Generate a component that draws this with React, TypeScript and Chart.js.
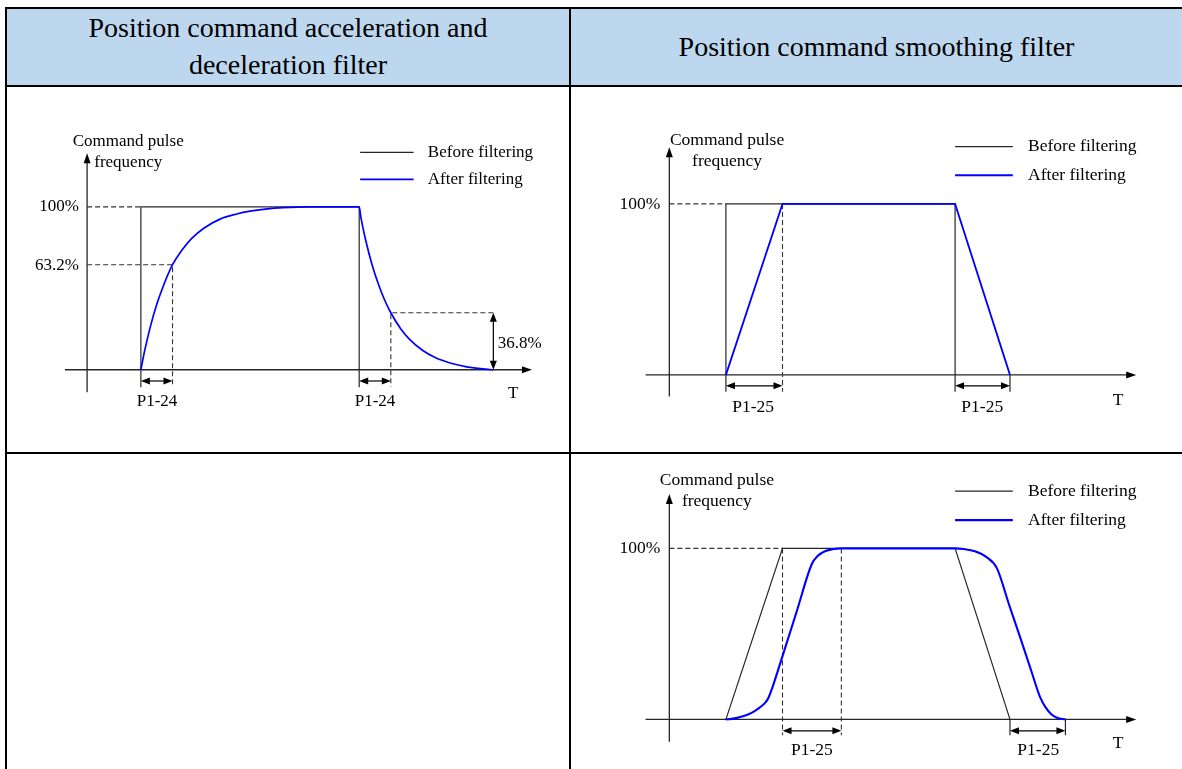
import React, { useEffect, useRef } from "react";
import { Chart, registerables } from "chart.js";

Chart.register(...registerables);

type Pt = { x: number; y: number };

// ---------- Diagram 1: acceleration / deceleration filter (time unit: 1/10 of P1-24) ----------
const D1_BEFORE: Pt[] = [
  { x: 17, y: 0 }, { x: 17, y: 100 }, { x: 86, y: 100 }, { x: 86, y: 0 },
];
const D1_AFTER: Pt[] = [
  { x: 17, y: 0 }, { x: 17.5, y: 5 }, { x: 18, y: 10 }, { x: 19, y: 18.5 }, { x: 20, y: 26.5 },
  { x: 22, y: 40 }, { x: 24, y: 51 }, { x: 27, y: 64.5 }, { x: 30, y: 73.5 }, { x: 33, y: 80.5 },
  { x: 37, y: 87 }, { x: 42, y: 92.5 }, { x: 47, y: 95.5 }, { x: 52, y: 97.5 }, { x: 57, y: 98.8 },
  { x: 62, y: 99.5 }, { x: 70, y: 100 }, { x: 86, y: 100 },
  { x: 86.5, y: 94 }, { x: 87, y: 89 }, { x: 88, y: 80 }, { x: 90, y: 65 }, { x: 92, y: 53 },
  { x: 94, y: 43 }, { x: 96, y: 35 }, { x: 99, y: 25.5 }, { x: 102, y: 18.5 }, { x: 106, y: 12 },
  { x: 110, y: 7.5 }, { x: 115, y: 4 }, { x: 120, y: 1.8 }, { x: 125, y: 0.5 }, { x: 128.4, y: 0 },
];
const D1_GUIDES: Pt[][] = [
  [{ x: 0, y: 100 }, { x: 17, y: 100 }],
  [{ x: 0, y: 64.5 }, { x: 27, y: 64.5 }, { x: 27, y: -10.5 }],
  [{ x: 128.4, y: 35 }, { x: 96, y: 35 }, { x: 96, y: -10.5 }],
];
const D1_TICKS: Pt[][] = [
  [{ x: 17, y: 0 }, { x: 17, y: -10.7 }],
  [{ x: 86, y: 0 }, { x: 86, y: -10.7 }],
];
const D1_SPANS = [
  { x1: 17, x2: 27, y: -6.9 },
  { x1: 86, x2: 96, y: -6.9 },
];
const D1_VSPANS = [{ x: 128.4, y1: 0, y2: 35 }];
const D1_LABELS = [
  { text: "Command pulse", x: 13, y: 140, align: "center" },
  { text: "frequency", x: 13, y: 127.3, align: "center" },
  { text: "100%", x: -2.6, y: 100, align: "right" },
  { text: "63.2%", x: -2.6, y: 64, align: "right" },
  { text: "36.8%", x: 129.8, y: 16.2, align: "left" },
  { text: "P1-24", x: 22.1, y: -19.3, align: "center" },
  { text: "P1-24", x: 91, y: -19.3, align: "center" },
  { text: "T", x: 134.7, y: -14.5, align: "center" },
];

// ---------- Diagram 2: smoothing filter, step input (time unit: 1/10 of P1-25) ----------
const D2_BEFORE: Pt[] = [
  { x: 10, y: 0 }, { x: 10, y: 100 }, { x: 50.5, y: 100 }, { x: 50.5, y: 0 },
];
const D2_AFTER: Pt[] = [
  { x: 10, y: 0 }, { x: 20, y: 100 }, { x: 50.5, y: 100 }, { x: 60.2, y: 0 },
];
const D2_GUIDES: Pt[][] = [
  [{ x: 0, y: 100 }, { x: 10, y: 100 }],
  [{ x: 20, y: 100 }, { x: 20, y: -9.8 }],
];
const D2_TICKS: Pt[][] = [
  [{ x: 10, y: 0 }, { x: 10, y: -9.8 }],
  [{ x: 50.5, y: 0 }, { x: 50.5, y: -9.8 }],
  [{ x: 60.2, y: 0 }, { x: 60.2, y: -9.8 }],
];
const D2_SPANS = [
  { x1: 10, x2: 20, y: -6.4 },
  { x1: 50.5, x2: 60.2, y: -6.4 },
];
const D2_LABELS = [
  { text: "Command pulse", x: 10.2, y: 137.4, align: "center" },
  { text: "frequency", x: 10.2, y: 125.1, align: "center" },
  { text: "100%", x: -1.6, y: 100, align: "right" },
  { text: "P1-25", x: 14.8, y: -18.9, align: "center" },
  { text: "P1-25", x: 55.3, y: -18.9, align: "center" },
  { text: "T", x: 79.3, y: -15, align: "center" },
];

// ---------- Diagram 3: smoothing filter, trapezoid input ----------
const D3_BEFORE: Pt[] = [
  { x: 10, y: 0 }, { x: 20, y: 100 }, { x: 50.5, y: 100 }, { x: 60.2, y: 0 },
];
const D3_AFTER: Pt[] = [
  { x: 10, y: 0 }, { x: 11, y: 0.3 }, { x: 12, y: 0.9 }, { x: 13, y: 1.8 }, { x: 14, y: 3 },
  { x: 15, y: 4.7 }, { x: 16, y: 7 }, { x: 17, y: 10 }, { x: 17.5, y: 12.5 },
  { x: 20, y: 37 }, { x: 22.5, y: 63 }, { x: 25.2, y: 91 }, { x: 26.2, y: 95.5 }, { x: 27.5, y: 98.3 },
  { x: 29, y: 99.6 }, { x: 30.4, y: 100 }, { x: 50.5, y: 100 }, { x: 52, y: 99.6 }, { x: 54, y: 98.3 },
  { x: 56, y: 95 }, { x: 57.9, y: 88.3 }, { x: 60, y: 67.5 }, { x: 62, y: 48 }, { x: 64, y: 28 },
  { x: 65.5, y: 13.2 }, { x: 66.5, y: 7 }, { x: 67.5, y: 3 }, { x: 68.5, y: 1 }, { x: 70, y: 0 },
];
const D3_GUIDES: Pt[][] = [
  [{ x: 0, y: 100 }, { x: 20, y: 100 }],
  [{ x: 20, y: 100 }, { x: 20, y: -9.2 }],
  [{ x: 30.4, y: 100 }, { x: 30.4, y: -9.2 }],
];
const D3_TICKS: Pt[][] = [
  [{ x: 60.2, y: 0 }, { x: 60.2, y: -9.2 }],
  [{ x: 70, y: 0 }, { x: 70, y: -9.2 }],
];
const D3_SPANS = [
  { x1: 20, x2: 30.4, y: -6.7 },
  { x1: 60.2, x2: 70, y: -6.7 },
];
const D3_LABELS = [
  { text: "Command pulse", x: 8.4, y: 139.5, align: "center" },
  { text: "frequency", x: 8.4, y: 127.3, align: "center" },
  { text: "100%", x: -1.6, y: 100, align: "right" },
  { text: "P1-25", x: 25.2, y: -18.3, align: "center" },
  { text: "P1-25", x: 65.2, y: -18.3, align: "center" },
  { text: "T", x: 79.3, y: -14.3, align: "center" },
];

const LEGEND_TEXT = ["Before filtering", "After filtering"];
const HEADER_LEFT = ["Position command acceleration and", "deceleration filter"];
const HEADER_RIGHT = "Position command smoothing filter";

const INK = "#262626";
const BLUE = "#0000ff";
const SERIF = '"Liberation Serif", "Times New Roman", serif';

type Spec = {
  box: { left: number; top: number; width: number; height: number };
  range: { xMin: number; xMax: number; yMin: number; yMax: number };
  before: Pt[];
  after: Pt[];
  smooth: boolean;
  blueWidth: number;
  guides: Pt[][];
  ticks: Pt[][];
  spans: { x1: number; x2: number; y: number }[];
  vspans: { x: number; y1: number; y2: number }[];
  labels: { text: string; x: number; y: number; align: string }[];
  axisX: [number, number];
  axisY: [number, number];
  legend: { x1: number; x2: number; textX: number; y1: number; y2: number };
  font: number;
};

const SPECS: Spec[] = [
  {
    box: { left: 8, top: 88, width: 560, height: 364 },
    range: { xMin: -25, xMax: 152, yMin: -50.5, yMax: 173 },
    before: D1_BEFORE, after: D1_AFTER, smooth: true, blueWidth: 1.7,
    guides: D1_GUIDES, ticks: D1_TICKS, spans: D1_SPANS, vspans: D1_VSPANS, labels: D1_LABELS,
    axisX: [-7, 140.6], axisY: [-13.8, 133],
    legend: { x1: 86.3, x2: 103.2, textX: 107.7, y1: 133.5, y2: 116.9 },
    font: 17,
  },
  {
    box: { left: 572, top: 88, width: 610, height: 364 },
    range: { xMin: -17.2, xMax: 90.6, yMin: -45.1, yMax: 167.8 },
    before: D2_BEFORE, after: D2_AFTER, smooth: false, blueWidth: 1.8,
    guides: D2_GUIDES, ticks: D2_TICKS, spans: D2_SPANS, vspans: [], labels: D2_LABELS,
    axisX: [-4.2, 82.5], axisY: [-12.7, 133.2],
    legend: { x1: 50.5, x2: 60.7, textX: 63.4, y1: 133.5, y2: 116.8 },
    font: 17.5,
  },
  {
    box: { left: 572, top: 455, width: 610, height: 314 },
    range: { xMin: -17.2, xMax: 90.6, yMin: -29, yMax: 154.6 },
    before: D3_BEFORE, after: D3_AFTER, smooth: true, blueWidth: 2.1,
    guides: D3_GUIDES, ticks: D3_TICKS, spans: D3_SPANS, vspans: [], labels: D3_LABELS,
    axisX: [-4.2, 82.5], axisY: [-13.1, 131.8],
    legend: { x1: 50.5, x2: 60.7, textX: 63.4, y1: 133.5, y2: 116.5 },
    font: 17.5,
  },
];

function head(ctx: CanvasRenderingContext2D, tx: number, ty: number, dx: number, dy: number, len: number, hw: number) {
  const bx = tx - dx * len, by = ty - dy * len;
  const px = -dy, py = dx;
  ctx.beginPath();
  ctx.moveTo(tx, ty);
  ctx.lineTo(bx + px * hw, by + py * hw);
  ctx.lineTo(bx - px * hw, by - py * hw);
  ctx.closePath();
  ctx.fill();
}

function makePlugin(s: Spec) {
  return {
    id: "annot",
    beforeDatasetsDraw(chart: any) {
      const ctx: CanvasRenderingContext2D = chart.ctx;
      const X = (v: number) => chart.scales.x.getPixelForValue(v);
      const Y = (v: number) => chart.scales.y.getPixelForValue(v);
      ctx.save();
      ctx.strokeStyle = INK;
      ctx.lineWidth = 1.3;
      ctx.beginPath();
      ctx.moveTo(X(s.axisX[0]), Y(0));
      ctx.lineTo(X(s.axisX[1]) - 4, Y(0));
      ctx.moveTo(X(0), Y(s.axisY[0]));
      ctx.lineTo(X(0), Y(s.axisY[1]) + 4);
      ctx.stroke();
      ctx.restore();
    },
    afterDatasetsDraw(chart: any) {
      const ctx: CanvasRenderingContext2D = chart.ctx;
      const X = (v: number) => chart.scales.x.getPixelForValue(v);
      const Y = (v: number) => chart.scales.y.getPixelForValue(v);
      ctx.save();
      ctx.fillStyle = "#000";
      ctx.strokeStyle = "#000";
      head(ctx, X(s.axisX[1]), Y(0), 1, 0, 10, 3.5);
      head(ctx, X(0), Y(s.axisY[1]), 0, -1, 10, 3.5);
      ctx.lineWidth = 1.2;
      for (const d of s.spans) {
        const a = X(d.x1), b = X(d.x2), y = Y(d.y);
        ctx.beginPath();
        ctx.moveTo(a + 4, y);
        ctx.lineTo(b - 4, y);
        ctx.stroke();
        head(ctx, a, y, -1, 0, 9, 3.5);
        head(ctx, b, y, 1, 0, 9, 3.5);
      }
      for (const d of s.vspans) {
        const x = X(d.x), a = Y(d.y1), b = Y(d.y2);
        ctx.beginPath();
        ctx.moveTo(x, a - 4);
        ctx.lineTo(x, b + 4);
        ctx.stroke();
        head(ctx, x, a, 0, 1, 9, 3.5);
        head(ctx, x, b, 0, -1, 9, 3.5);
      }
      // legend
      const L = s.legend;
      ctx.lineWidth = 1.2;
      ctx.strokeStyle = INK;
      ctx.beginPath();
      ctx.moveTo(X(L.x1), Y(L.y1));
      ctx.lineTo(X(L.x2), Y(L.y1));
      ctx.stroke();
      ctx.lineWidth = s.blueWidth + 0.2;
      ctx.strokeStyle = BLUE;
      ctx.beginPath();
      ctx.moveTo(X(L.x1), Y(L.y2));
      ctx.lineTo(X(L.x2), Y(L.y2));
      ctx.stroke();
      ctx.font = `${s.font}px ${SERIF}`;
      ctx.fillStyle = "#000";
      ctx.textBaseline = "middle";
      ctx.textAlign = "left";
      ctx.fillText(LEGEND_TEXT[0], X(L.textX), Y(L.y1));
      ctx.fillText(LEGEND_TEXT[1], X(L.textX), Y(L.y2));
      for (const t of s.labels) {
        ctx.textAlign = t.align as CanvasTextAlign;
        ctx.fillText(t.text, X(t.x), Y(t.y));
      }
      ctx.restore();
    },
  };
}

function Diagram({ spec }: { spec: Spec }) {
  const ref = useRef<HTMLCanvasElement | null>(null);
  useEffect(() => {
    if (!ref.current) return;
    const s = spec;
    const line = (data: Pt[], color: string, width: number, extra: any = {}) => ({
      data, borderColor: color, borderWidth: width, pointRadius: 0, fill: false, tension: 0, ...extra,
    });
    const datasets: any[] = [
      line(s.after, BLUE, s.blueWidth, s.smooth ? { cubicInterpolationMode: "monotone" } : {}),
      line(s.before, INK, 1.2),
      ...s.guides.map((g) => line(g, "#333", 1.1, { borderDash: [5, 3] })),
      ...s.ticks.map((g) => line(g, INK, 1.2)),
    ];
    const chart = new Chart(ref.current, {
      type: "line",
      data: { datasets },
      options: {
        animation: false,
        responsive: false,
        devicePixelRatio: 1,
        layout: { padding: 0 },
        events: [],
        scales: {
          x: { type: "linear", min: s.range.xMin, max: s.range.xMax, display: false },
          y: { type: "linear", min: s.range.yMin, max: s.range.yMax, display: false },
        },
        plugins: { legend: { display: false }, tooltip: { enabled: false } },
      },
      plugins: [makePlugin(s)],
    } as any);
    return () => chart.destroy();
  }, [spec]);
  const b = spec.box;
  return (
    <canvas
      ref={ref}
      width={b.width}
      height={b.height}
      style={{ position: "absolute", left: b.left, top: b.top, width: b.width, height: b.height }}
    />
  );
}

const bar = (left: number, top: number, width: number, height: number) => (
  <div style={{ position: "absolute", left, top, width, height, background: "#000" }} />
);

const headText = (text: string, left: number, width: number, cy: number) => (
  <div
    style={{
      position: "absolute", left, width, top: cy - 17, height: 34, lineHeight: "34px",
      textAlign: "center", fontFamily: SERIF, fontSize: 28, color: "#000", whiteSpace: "nowrap",
    }}
  >
    {text}
  </div>
);

export default function App() {
  return (
    <div style={{ position: "absolute", left: 0, top: 0, width: 1182, height: 769, background: "#fff", overflow: "hidden" }}>
      <div style={{ position: "absolute", left: 7, top: 9, width: 1175, height: 76, background: "#BDD7EE" }} />
      {headText(HEADER_LEFT[0], 7, 562, 28)}
      {headText(HEADER_LEFT[1], 7, 562, 65)}
      {headText(HEADER_RIGHT, 571, 611, 47)}
      {SPECS.map((s, i) => (
        <Diagram key={i} spec={s} />
      ))}
      {bar(5, 7, 1177, 2)}
      {bar(5, 7, 2, 762)}
      {bar(5, 85, 1177, 2)}
      {bar(569, 7, 2, 762)}
      {bar(5, 452, 1177, 2)}
    </div>
  );
}
